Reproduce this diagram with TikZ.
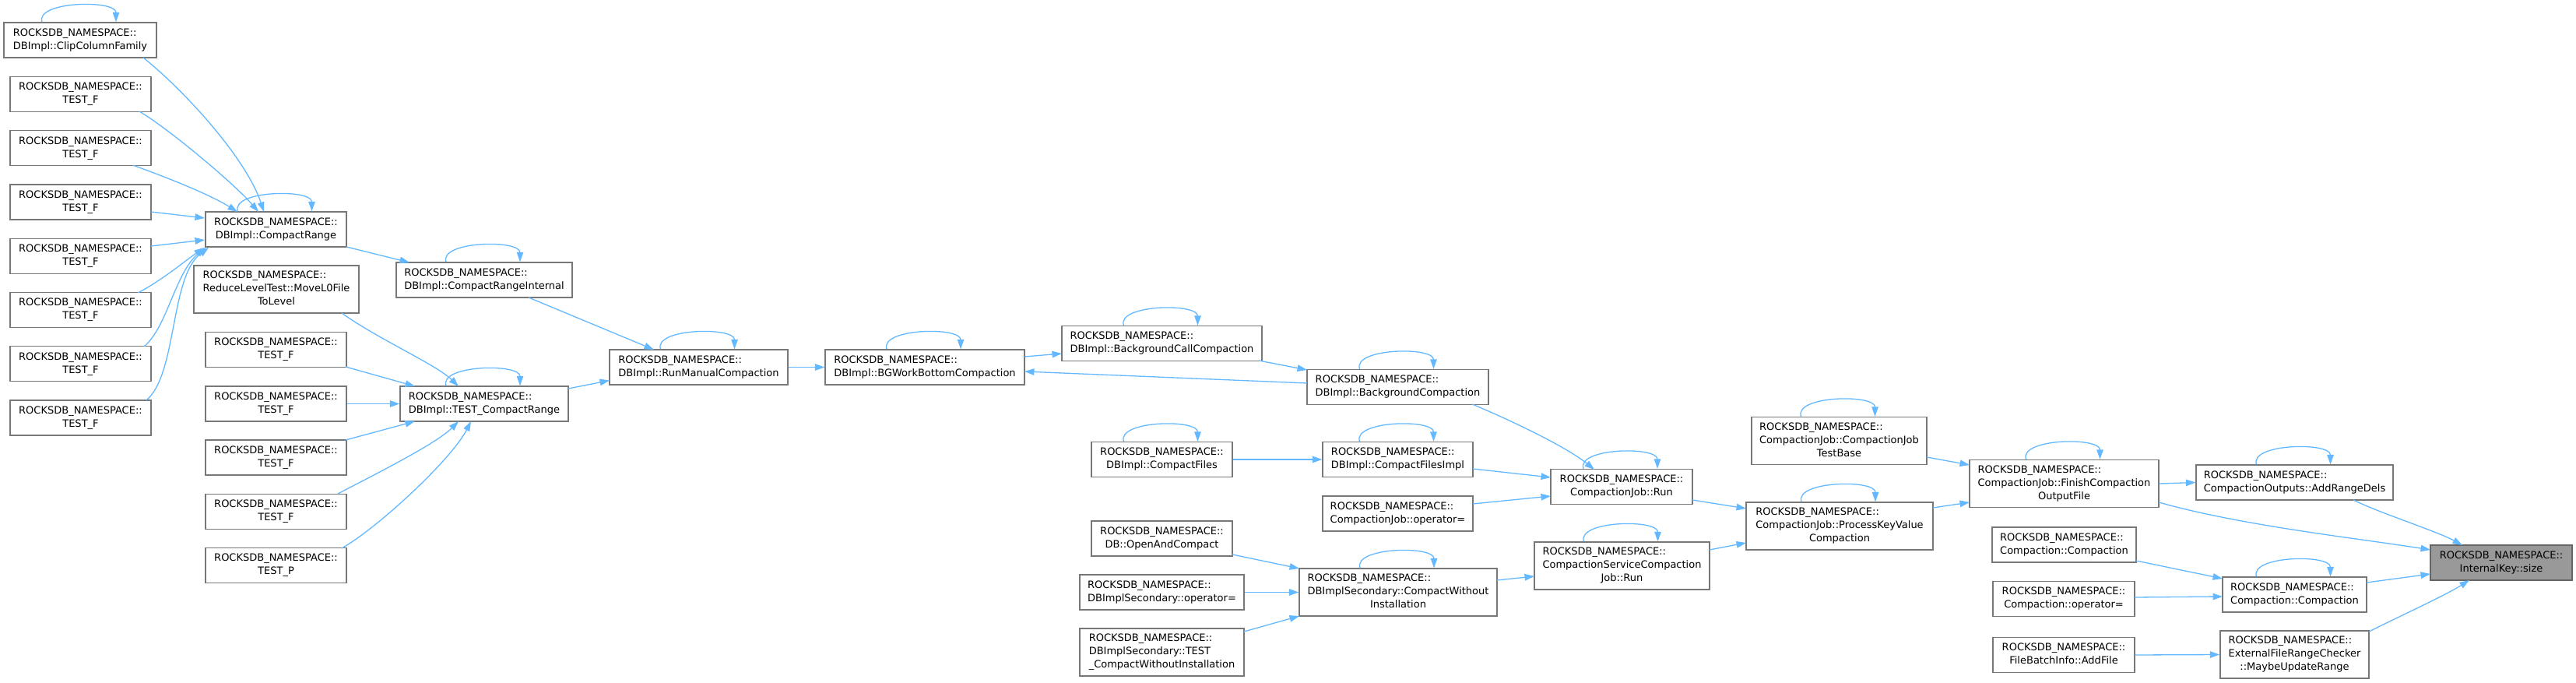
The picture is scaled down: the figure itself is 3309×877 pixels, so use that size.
\documentclass[tikz,border=0pt]{standalone}
\usepackage{fontspec}
\setmainfont{DejaVu Sans}
\usetikzlibrary{arrows.meta,calc}
\definecolor{edgeblue}{HTML}{63B8FF}
\definecolor{boxborder}{HTML}{777777}
\definecolor{rootfill}{HTML}{999999}
\newcommand\lbltwo[1]{\begin{tabular}{@{}l@{}}ROCKSDB\_NAMESPACE::\\\multicolumn{1}{@{}c@{}}{#1}\end{tabular}}
\newcommand\lblthree[2]{\begin{tabular}{@{}l@{}}ROCKSDB\_NAMESPACE::\\#1\\\multicolumn{1}{@{}c@{}}{#2}\end{tabular}}
\newcommand\selfloop[1]{\draw[conn] ($(#1.north)+(-49,0)$) .. controls ($(#1.north)+(-58,-27)$) and ($(#1.north)+(46,-29)$) .. ($(#1.north)+(46,0)$);}
\begin{document}
\begin{tikzpicture}[x=1pt,y=-1pt,
  box/.style={draw=boxborder, line width=1.3pt, fill=white, rectangle, inner sep=0pt,
    font=\fontsize{13}{17}\selectfont, text=black},
  rootbox/.style={box, fill=rootfill, draw=boxborder!85!black},
  conn/.style={draw=edgeblue, line width=1.3pt, -{Triangle[length=12.5pt,width=8.5pt]}}]
\useasboundingbox (0,0) rectangle (3309,877);
% column A
\node[box, minimum width=196pt, minimum height=45pt] (clip) at (103,51.5) {\lbltwo{DBImpl::ClipColumnFamily}};
\node[box, minimum width=181pt, minimum height=45pt] (tfa1) at (103.5,121) {\lbltwo{TEST\_F}};
\node[box, minimum width=181pt, minimum height=45pt] (tfa2) at (103.5,190.25) {\lbltwo{TEST\_F}};
\node[box, minimum width=181pt, minimum height=45pt] (tfa3) at (103.5,259.5) {\lbltwo{TEST\_F}};
\node[box, minimum width=181pt, minimum height=45pt] (tfa4) at (103.5,328.75) {\lbltwo{TEST\_F}};
\node[box, minimum width=181pt, minimum height=45pt] (tfa5) at (103.5,398) {\lbltwo{TEST\_F}};
\node[box, minimum width=181pt, minimum height=45pt] (tfa6) at (103.5,467.25) {\lbltwo{TEST\_F}};
\node[box, minimum width=181pt, minimum height=45pt] (tfa7) at (103.5,536.5) {\lbltwo{TEST\_F}};
% column B
\node[box, minimum width=181pt, minimum height=45pt] (crange) at (354.5,294.5) {\lbltwo{DBImpl::CompactRange}};
\node[box, minimum width=212pt, minimum height=61pt] (reduce) at (355,371.5) {\lblthree{ReduceLevelTest::MoveL0File}{ToLevel}};
\node[box, minimum width=181pt, minimum height=45pt] (tfb1) at (354.5,449) {\lbltwo{TEST\_F}};
\node[box, minimum width=181pt, minimum height=45pt] (tfb2) at (354.5,518.5) {\lbltwo{TEST\_F}};
\node[box, minimum width=181pt, minimum height=45pt] (tfb3) at (354.5,587.5) {\lbltwo{TEST\_F}};
\node[box, minimum width=181pt, minimum height=45pt] (tfb4) at (354.5,656.75) {\lbltwo{TEST\_F}};
\node[box, minimum width=181pt, minimum height=45pt] (tpb) at (354.5,726) {\lbltwo{TEST\_P}};
% column C
\node[box, minimum width=226pt, minimum height=45pt] (crint) at (622,359.5) {\lbltwo{DBImpl::CompactRangeInternal}};
\node[box, minimum width=216pt, minimum height=45pt] (tcr) at (622,518.5) {\lbltwo{DBImpl::TEST\_CompactRange}};
% column D, E
\node[box, minimum width=229pt, minimum height=45pt] (rmc) at (897.5,471.5) {\lbltwo{DBImpl::RunManualCompaction}};
\node[box, minimum width=256pt, minimum height=45pt] (bgw) at (1188,471.5) {\lbltwo{DBImpl::BGWorkBottomCompaction}};
% column F
\node[box, minimum width=257pt, minimum height=45pt] (bcc) at (1492.5,441) {\lbltwo{DBImpl::BackgroundCallCompaction}};
\node[box, minimum width=181pt, minimum height=45pt] (cfiles) at (1492.5,590) {\lbltwo{DBImpl::CompactFiles}};
\node[box, minimum width=181pt, minimum height=45pt] (oac) at (1492.5,691.5) {\lbltwo{DB::OpenAndCompact}};
\node[box, minimum width=211pt, minimum height=45pt] (dsop) at (1492.5,760.5) {\lbltwo{DBImplSecondary::operator=}};
\node[box, minimum width=211pt, minimum height=61pt] (dstest) at (1492.5,837.5) {\lblthree{DBImplSecondary::TEST}{\_CompactWithoutInstallation}};
% column G
\node[box, minimum width=233pt, minimum height=45pt] (bgc) at (1795.5,497) {\lbltwo{DBImpl::BackgroundCompaction}};
\node[box, minimum width=193pt, minimum height=45pt] (cfimpl) at (1795.5,590) {\lbltwo{DBImpl::CompactFilesImpl}};
\node[box, minimum width=193pt, minimum height=45pt] (cjop) at (1795.5,659.5) {\lbltwo{CompactionJob::operator=}};
\node[box, minimum width=254pt, minimum height=61pt] (cwi) at (1796,760.5) {\lblthree{DBImplSecondary::CompactWithout}{Installation}};
% column H
\node[box, minimum width=182pt, minimum height=45pt] (cjrun) at (2083,625) {\lbltwo{CompactionJob::Run}};
\node[box, minimum width=225pt, minimum height=61pt] (cscjr) at (2083.5,726.5) {\lblthree{CompactionServiceCompaction}{Job::Run}};
% column I
\node[box, minimum width=225pt, minimum height=61pt] (cjtb) at (2362.5,566) {\lblthree{CompactionJob::CompactionJob}{TestBase}};
\node[box, minimum width=240pt, minimum height=61pt] (pkvc) at (2363,675.5) {\lblthree{CompactionJob::ProcessKeyValue}{Compaction}};
% column J
\node[box, minimum width=243pt, minimum height=61pt] (fcof) at (2651.5,621) {\lblthree{CompactionJob::FinishCompaction}{OutputFile}};
\node[box, minimum width=185pt, minimum height=45pt] (compL) at (2651.5,699.5) {\lbltwo{Compaction::Compaction}};
\node[box, minimum width=182pt, minimum height=45pt] (compop) at (2651,769) {\lbltwo{Compaction::operator=}};
\node[box, minimum width=182pt, minimum height=45pt] (fbi) at (2651,841) {\lbltwo{FileBatchInfo::AddFile}};
% column K
\node[box, minimum width=253pt, minimum height=45pt] (ard) at (2947.5,619.5) {\lbltwo{CompactionOutputs::AddRangeDels}};
\node[box, minimum width=185pt, minimum height=45pt] (compM) at (2947.5,763.5) {\lbltwo{Compaction::Compaction}};
\node[box, minimum width=191pt, minimum height=61pt] (murr) at (2947.5,840.5) {\lblthree{ExternalFileRangeChecker}{::MaybeUpdateRange}};
% root
\node[rootbox, minimum width=182pt, minimum height=45pt] (iks) at (3213,722.5) {\lbltwo{InternalKey::size}};

% self loops
\foreach \n in {clip,crange,crint,tcr,rmc,bgw,bcc,bgc,cfiles,cfimpl,cwi,cjrun,cscjr,cjtb,pkvc,fcof,ard,compM} {\selfloop{\n}}

% edges into CompactRange
\draw[conn] ($(clip)+(81,22.5)$) .. controls (239,118) and (317,205) .. ($(crange)+(-15.5,-22.5)$);
\draw[conn] ($(tfa1)+(75.5,22)$) .. controls (219,167) and (302,237) .. ($(crange)+(-22.5,-22.5)$);
\draw[conn] ($(tfa2)+(67.5,22)$) .. controls (215,228) and (270,250) .. ($(crange)+(-49.5,-22.5)$);
\draw[conn] ($(tfa3)+(90.5,12.5)$) -- ($(crange)+(-91.5,-14.5)$);
\draw[conn] ($(tfa4)+(90.5,-12.75)$) -- ($(crange)+(-91.5,13.5)$);
\draw[conn] ($(tfa5)+(73.5,-22)$) .. controls (205,362) and (238,335) .. ($(crange)+(-92.5,23.5)$);
\draw[conn] ($(tfa6)+(81.5,-22.25)$) .. controls (215,420) and (225,350) .. ($(crange)+(-90.5,23.5)$);
\draw[conn] ($(tfa7)+(84.5,-22.5)$) .. controls (228,480) and (218,355) .. ($(crange)+(-86.5,23.5)$);
\draw[conn] ($(crange)+(90.5,22.5)$) -- ($(crint)+(-96,-22.5)$);
% edges into TEST_CompactRange
\draw[conn] ($(reduce)+(84,30.5)$) .. controls (485,435) and (560,468) .. ($(tcr)+(-33,-22.5)$);
\draw[conn] ($(tfb1)+(89.5,22)$) -- ($(tcr)+(-89,-22.5)$);
\draw[conn] (tfb2.east) -- (tcr.west);
\draw[conn] ($(tfb3)+(89.5,-22.5)$) -- ($(tcr)+(-89,22.5)$);
\draw[conn] ($(tfb4)+(79.5,-22.75)$) .. controls (480,610) and (560,570) .. ($(tcr)+(-33,22.5)$);
\draw[conn] ($(tpb)+(84.5,-22)$) .. controls (485,678) and (580,590) .. ($(tcr)+(-17,22.5)$);
% middle chain
\draw[conn] ($(crint)+(57,22.5)$) -- ($(rmc)+(-57.5,-22.5)$);
\draw[conn] ($(tcr)+(108,-19.5)$) -- ($(rmc)+(-114.5,17)$);
\draw[conn] (rmc.east) -- (bgw.west);
\draw[conn] ($(bgw)+(128,-13.5)$) -- ($(bcc)+(-128.5,13)$);
\draw[conn] ($(bcc)+(124.5,22)$) -- ($(bgc)+(-116.5,-22)$);
\draw[conn] ($(bgc)+(-116.5,-5)$) -- ($(bgw)+(128,5.5)$);
\draw[conn] ($(bgc)+(95.5,22)$) .. controls (1930,535) and (2010,572) .. ($(cjrun)+(-35,-22)$);
\draw[conn] (cfiles.east) -- (cfimpl.west);
\draw[conn] ($(cfimpl)+(96.5,12)$) -- ($(cjrun)+(-91,-12)$);
\draw[conn] ($(cjop)+(96.5,-12.5)$) -- ($(cjrun)+(-91,12)$);
\draw[conn] ($(oac)+(90.5,20.5)$) -- ($(cwi)+(-127,-30.5)$);
\draw[conn] (dsop.east) -- (cwi.west);
\draw[conn] ($(dstest)+(105.5,-26.5)$) -- ($(cwi)+(-127,30.5)$);
\draw[conn] ($(cwi)+(127,-15.5)$) -- ($(cscjr)+(-112.5,13.5)$);
\draw[conn] ($(cjrun)+(91,17)$) -- ($(pkvc)+(-120,-22.5)$);
\draw[conn] ($(cscjr)+(112.5,-20.5)$) -- ($(pkvc)+(-120,21.5)$);
\draw[conn] ($(cjtb)+(112.5,21)$) -- ($(fcof)+(-121.5,-24)$);
\draw[conn] ($(pkvc)+(120,-23.5)$) -- ($(fcof)+(-121.5,24)$);
\draw[conn] (fcof.east) -- (ard.west);
\draw[conn] ($(fcof)+(121.5,24)$) .. controls (2880,675) and (3020,690) .. ($(iks)+(-91,-16.5)$);
\draw[conn] ($(ard)+(75.5,22.5)$) .. controls (3060,660) and (3130,682) .. ($(iks)+(-50,-22.5)$);
\draw[conn] ($(compL)+(92.5,20.5)$) -- ($(compM)+(-92.5,-20.5)$);
\draw[conn] ($(compop)+(91,-2)$) -- ($(compM)+(-92.5,2.5)$);
\draw[conn] ($(compM)+(92.5,-15.5)$) -- ($(iks)+(-91,14.5)$);
\draw[conn] (fbi.east) -- (murr.west);
\draw[conn] ($(murr)+(95.5,-29.5)$) .. controls (3085,790) and (3140,765) .. ($(iks)+(-41,22.5)$);
\end{tikzpicture}
\end{document}
